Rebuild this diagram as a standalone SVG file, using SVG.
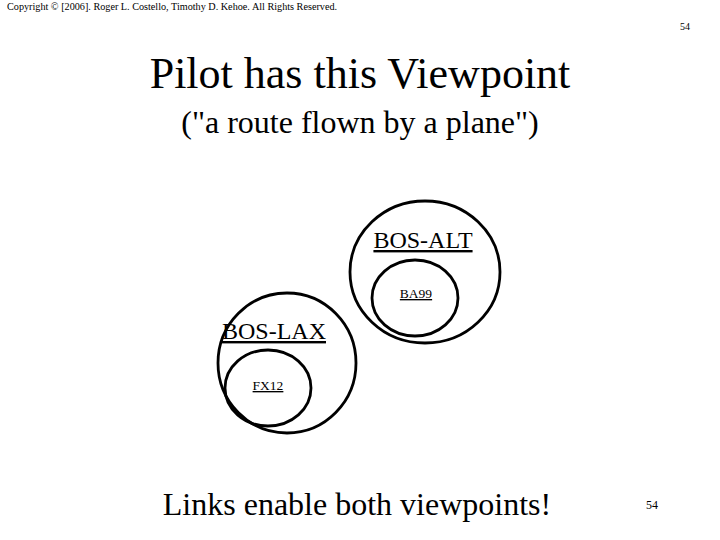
<svg xmlns="http://www.w3.org/2000/svg" width="720" height="540" viewBox="0 0 720 540">
<style>
text{font-family:"Liberation Serif","Times New Roman",serif;fill:#000}
.c{fill:none;stroke:#000;stroke-width:2.8}
.u{text-decoration:underline}
</style>
<rect width="720" height="540" fill="#fff"/>
<text x="7" y="10" font-size="10.2">Copyright © [2006]. Roger L. Costello, Timothy D. Kehoe. All Rights Reserved.</text>
<text x="690" y="30" font-size="10" text-anchor="end">54</text>
<text x="360" y="88" font-size="44" text-anchor="middle">Pilot has this Viewpoint</text>
<text x="360" y="133" font-size="32" text-anchor="middle">("a route flown by a plane")</text>
<g id="bos-alt">
<ellipse class="c" cx="425" cy="272" rx="75" ry="71"/>
<text class="u" x="423" y="248" font-size="24" text-anchor="middle">BOS-ALT</text>
</g>
<g id="ba99">
<ellipse class="c" cx="415" cy="298" rx="43" ry="38"/>
<text class="u" x="416" y="298" font-size="13.5" text-anchor="middle">BA99</text>
</g>
<g id="bos-lax">
<ellipse class="c" cx="287" cy="363" rx="69" ry="70"/>
<text class="u" x="274" y="339" font-size="24" text-anchor="middle">BOS-LAX</text>
</g>
<g id="fx12">
<ellipse class="c" cx="268" cy="388" rx="43" ry="38"/>
<text class="u" x="268" y="390" font-size="13.5" text-anchor="middle">FX12</text>
</g>
<g id="connectors"></g>
<text x="357" y="515" font-size="32" text-anchor="middle">Links enable both viewpoints!</text>
<text x="652" y="509" font-size="12" text-anchor="middle">54</text>
</svg>
